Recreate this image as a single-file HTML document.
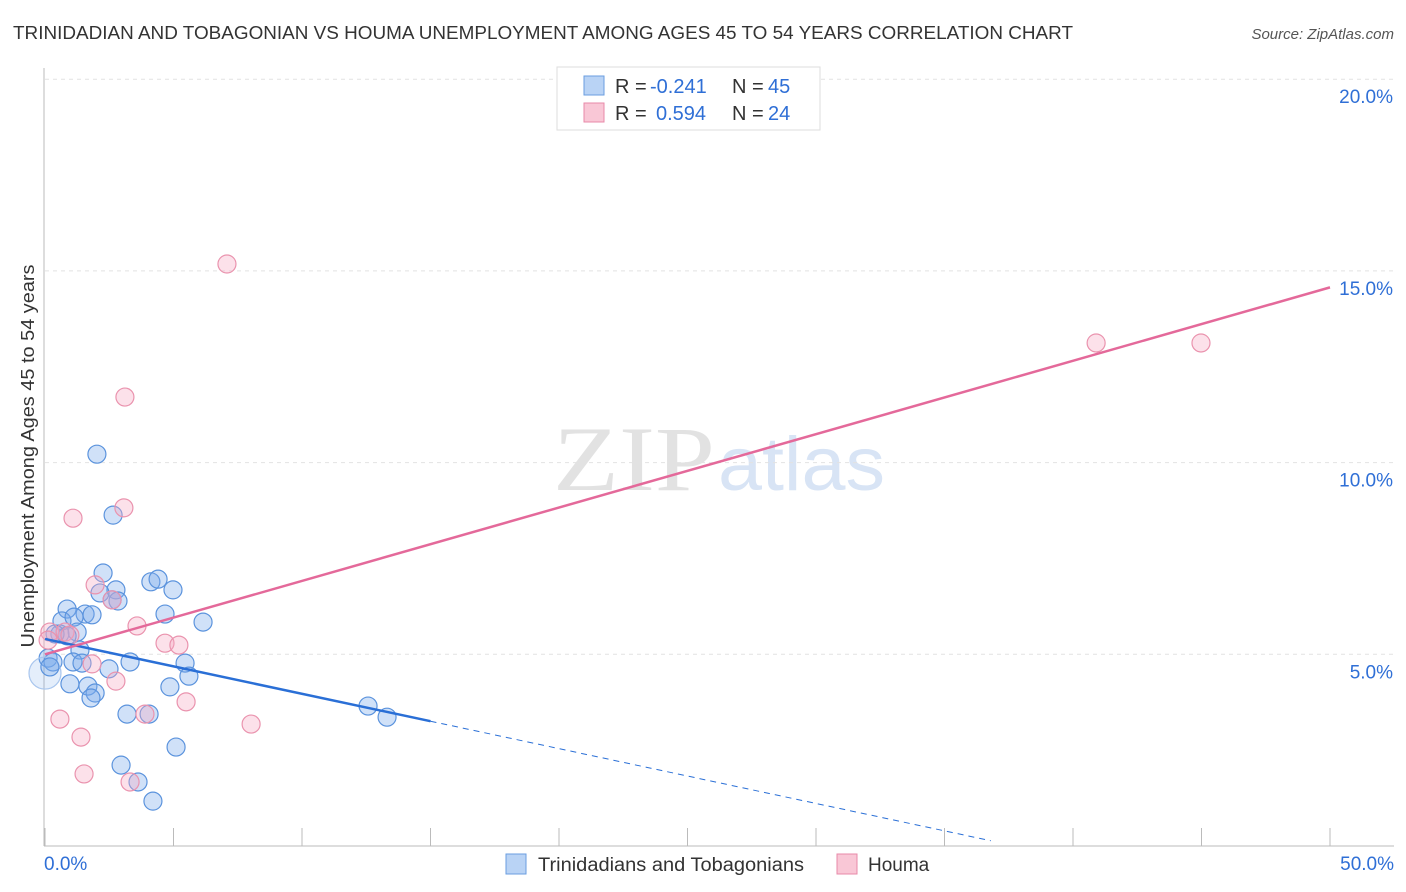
<!DOCTYPE html>
<html><head><meta charset="utf-8"><style>
body{margin:0;background:#fff;font-family:"Liberation Sans",sans-serif}
svg{display:block}
</style></head><body>
<svg id="c" width="1406" height="892">
<text x="13" y="39" font-size="18" fill="#333" textLength="1060" lengthAdjust="spacingAndGlyphs">TRINIDADIAN AND TOBAGONIAN VS HOUMA UNEMPLOYMENT AMONG AGES 45 TO 54 YEARS CORRELATION CHART</text>
<text x="1394" y="39" font-size="15" fill="#555" font-style="italic" text-anchor="end">Source: ZipAtlas.com</text>
<g>
<text x="553" y="490" font-size="92" font-family="Liberation Serif,serif" fill="#e2e2e2" textLength="162" lengthAdjust="spacingAndGlyphs">ZIP</text>
<text x="718" y="490" font-size="76" fill="#d8e4f5" textLength="167" lengthAdjust="spacingAndGlyphs">atlas</text>
</g>
<g id="grid"></g><g id="axes"></g><g id="marks"></g>
<text transform="translate(34,456) rotate(-90)" font-size="18" fill="#333" text-anchor="middle" textLength="383" lengthAdjust="spacingAndGlyphs">Unemployment Among Ages 45 to 54 years</text>
<g>
<rect x="557" y="67" width="263" height="63" fill="#fff" stroke="#ddd"/>
<rect x="584" y="76" width="20" height="19" fill="#b9d3f5" stroke="#6a9ee0"/>
<rect x="584" y="103" width="20" height="19" fill="#f9c7d6" stroke="#e88aa8"/>
<text x="615" y="93" font-size="20" fill="#333">R =</text>
<text x="650" y="93" font-size="20" fill="#2f6fd6">-0.241</text>
<text x="732" y="93" font-size="20" fill="#333">N =</text>
<text x="768" y="93" font-size="20" fill="#2f6fd6">45</text>
<text x="615" y="120" font-size="20" fill="#333">R =</text>
<text x="656" y="120" font-size="20" fill="#2f6fd6">0.594</text>
<text x="732" y="120" font-size="20" fill="#333">N =</text>
<text x="768" y="120" font-size="20" fill="#2f6fd6">24</text>
</g>
<g>
<rect x="506" y="854" width="20" height="20" fill="#b9d3f5" stroke="#6a9ee0"/>
<text x="538" y="871" font-size="19" fill="#333" textLength="266" lengthAdjust="spacingAndGlyphs">Trinidadians and Tobagonians</text>
<rect x="837" y="854" width="20" height="20" fill="#f9c7d6" stroke="#e88aa8"/>
<text x="868" y="871" font-size="19" fill="#333">Houma</text>
</g>
</svg>
<script>
const blueX=[2.02,2.65,2.26,4.12,4.40,4.98,2.76,2.14,2.84,2.61,0.86,1.56,1.83,4.67,0.66,6.15,1.13,1.25,0.58,0.86,0.39,1.36,0.12,0.31,1.09,1.44,3.31,5.45,2.49,5.60,0.97,1.67,1.95,1.79,4.86,3.19,4.05,12.57,13.31,5.10,2.96,3.62,4.20,0.0,0.19];
const blueY=[10.22,8.63,7.12,6.89,6.96,6.68,6.68,6.60,6.39,6.42,6.18,6.05,6.03,6.05,5.87,5.84,5.97,5.58,5.53,5.48,5.53,5.11,4.90,4.80,4.80,4.77,4.80,4.77,4.62,4.43,4.23,4.17,3.99,3.86,4.15,3.44,3.44,3.65,3.36,2.58,2.11,1.67,1.17,4.51,4.67];
const pinkX=[7.08,3.11,3.07,1.09,1.95,2.61,3.58,4.67,5.21,0.19,0.78,1.83,2.76,5.49,3.89,0.58,8.02,1.40,1.52,3.31,40.9,44.98,0.97,0.12];
const pinkY=[15.18,11.71,8.82,8.55,6.81,6.42,5.74,5.29,5.24,5.58,5.58,4.75,4.30,3.76,3.44,3.31,3.18,2.84,1.88,1.67,13.12,13.12,5.50,5.37];
const blueTrend=[5.40,-0.143];
const pinkTrend=[5.0,0.1914];
const yTicks=[5,10,15,20];
const yTickLabels=["5.0%","10.0%","15.0%","20.0%"];
const xTickLabels=["0.0%","50.0%"];
const NS="http://www.w3.org/2000/svg";
const sx=v=>45+v*25.7, sy=v=>846-v*38.34;
function mk(p,t,a){const e=document.createElementNS(NS,t);for(const k in a)e.setAttribute(k,a[k]);p.appendChild(e);return e;}
const grid=document.getElementById('grid'),axes=document.getElementById('axes'),marks=document.getElementById('marks');
yTicks.forEach((v,i)=>{
 const l=mk(grid,'line',{x1:45,x2:1394,y1:sy(v),y2:sy(v),stroke:'#e2e2e2','stroke-dasharray':'4,4'});
 
 
 const t=mk(axes,'text',{x:1393,y:sy(v)+24,'font-size':19,fill:'#2f6fd6','text-anchor':'end'});
 t.textContent=yTickLabels[i];
 
 
});
let a=mk(axes,'line',{x1:44,x2:44,y1:68,y2:846,stroke:'#bbb'});

a=mk(axes,'line',{x1:44,x2:1394,y1:846,y2:846,stroke:'#bbb'});

for(let i=0;i<=10;i++){const tk=mk(axes,'line',{x1:sx(i*5),x2:sx(i*5),y1:828,y2:846,stroke:'#bbb'});
 }
let t=mk(axes,'text',{x:44,y:870,'font-size':19,fill:'#2f6fd6'});t.textContent=xTickLabels[0];

t=mk(axes,'text',{x:1394,y:870,'font-size':19,fill:'#2f6fd6','text-anchor':'end'});t.textContent=xTickLabels[1];

blueX.forEach((x,i)=>{const big=(i==43);const c=mk(marks,'circle',{cx:sx(x),cy:sy(blueY[i]),r:big?16:9,fill:big?'rgba(120,170,235,0.2)':'rgba(120,170,235,0.35)',stroke:big?'#a9c6ee':'#5b93dd','stroke-width':1.2});
 });
pinkX.forEach((x,i)=>{const c=mk(marks,'circle',{cx:sx(x),cy:sy(pinkY[i]),r:9,fill:'rgba(245,170,195,0.35)',stroke:'#ea93ae','stroke-width':1.2});
 });
const bf=x=>blueTrend[0]+blueTrend[1]*x, pf=x=>pinkTrend[0]+pinkTrend[1]*x;
let L=mk(marks,'line',{x1:sx(0),y1:sy(bf(0)),x2:sx(15),y2:sy(bf(15)),stroke:'#2a6fd6','stroke-width':2.5});

L=mk(marks,'line',{x1:sx(15),y1:sy(bf(15)),x2:sx(36.8),y2:sy(bf(36.8)),stroke:'#2a6fd6','stroke-width':1,'stroke-dasharray':'6,5'});

L=mk(marks,'line',{x1:sx(0),y1:sy(pf(0)),x2:sx(50),y2:sy(pf(50)),stroke:'#e4699a','stroke-width':2.5});

</script>
</body></html>
